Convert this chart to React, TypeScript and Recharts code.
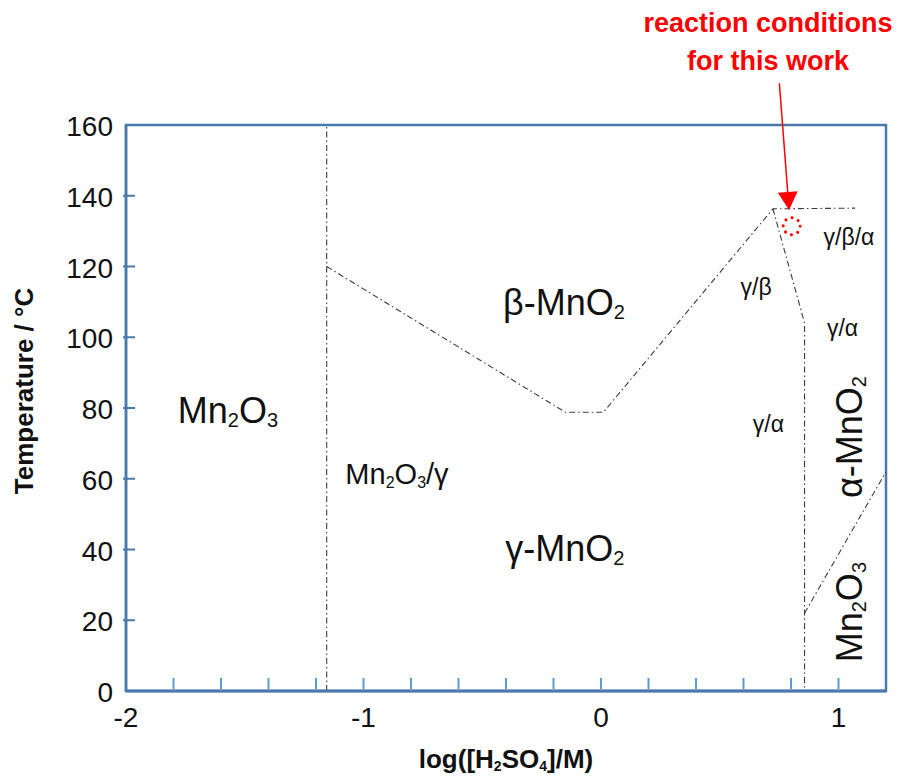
import React from "react";
import {
  ComposedChart,
  Line,
  Scatter,
  XAxis,
  YAxis,
  ReferenceArea,
  ReferenceDot,
  ReferenceLine,
} from "recharts";

const FONT = '"Liberation Sans", Arial, sans-serif';
const FRAME = "#4a78aa";
const MINOR = "#5b9bd5";
const BOUNDARY = "#3c3c3c";
const RED = "#ff0000";
const TEXT = "#111";

const xTicks = [-2, -1.8, -1.6, -1.4, -1.2, -1, -0.8, -0.6, -0.4, -0.2, 0, 0.2, 0.4, 0.6, 0.8, 1, 1.2];
const xTickLabels = [-2, -1, 0, 1];
const yTicks = [0, 20, 40, 60, 80, 100, 120, 140, 160];

// phase boundaries, log([H2SO4]/M) vs temperature
const mn2o3Boundary = [
  { x: -1.155, y: 0 },
  { x: -1.155, y: 160 },
];
const betaBoundary = [
  { x: -1.155, y: 120 },
  { x: -0.15, y: 78.8 },
  { x: 0.01, y: 78.8 },
  { x: 0.724, y: 136.3 },
  { x: 1.07, y: 136.5 },
];
const alphaBoundary = [
  { x: 0.724, y: 136.3 },
  { x: 0.857, y: 104 },
  { x: 0.857, y: 0 },
];
const alphaMn2o3Boundary = [
  { x: 0.857, y: 22 },
  { x: 1.2, y: 62 },
];
const thisWork = [{ x: 0.803, y: 131.4 }];

const arrowFrom = { x: 0.751, y: 171.8 };
const arrowTo = { x: 0.792, y: 136 };
const note = { x: 0.703, y: 186.3, lines: ["reaction conditions", "for this work"] };

const phaseLabels = [
  { text: "Mn_2O_3", x: -1.571, y: 75.8, size: 36 },
  { text: "β-MnO_2", x: -0.156, y: 106.3, size: 36 },
  { text: "Mn_2O_3/γ", x: -0.859, y: 58.4, size: 29 },
  { text: "γ-MnO_2", x: -0.152, y: 36.7, size: 36 },
  { text: "γ/β", x: 0.653, y: 111.9, size: 23 },
  { text: "γ/β/α", x: 1.044, y: 126.1, size: 23 },
  { text: "γ/α", x: 1.017, y: 100.4, size: 23 },
  { text: "γ/α", x: 0.705, y: 73.2, size: 23 },
];
const rotatedLabels = [
  { text: "α-MnO_2", x: 1.099, y: 71.8, size: 36 },
  { text: "Mn_2O_3", x: 1.099, y: 22.3, size: 36 },
];

// "_2" -> subscript 2
function chem(text: string, size: number) {
  const parts = text.split(/_(\d)/);
  const shift = size * 0.12;
  return parts.map((p, i) =>
    i % 2 === 1 ? (
      <tspan key={i} fontSize={Math.round(size * 0.55)} dy={shift}>
        {p}
      </tspan>
    ) : (
      <tspan key={i} dy={i === 0 ? 0 : -shift}>
        {p}
      </tspan>
    )
  );
}

const XTick = (props: any) => {
  const { x, y, payload } = props;
  const axisY = y - 8;
  const v = payload.value;
  return (
    <g>
      {v > -2 && v < 1.2 && (
        <line x1={x} x2={x} y1={axisY - 2} y2={axisY - 13} stroke={MINOR} strokeWidth={2} />
      )}
      {xTickLabels.includes(v) && (
        <text x={x} y={axisY + 36} textAnchor="middle" fontFamily={FONT} fontSize={28} fill={TEXT}>
          {v}
        </text>
      )}
    </g>
  );
};

const YTick = (props: any) => {
  const { x, y, payload } = props;
  const axisX = x + 13;
  const v = payload.value;
  return (
    <g>
      {v > 0 && v < 160 && (
        <line x1={axisX - 3} x2={axisX + 9} y1={y} y2={y} stroke={FRAME} strokeWidth={2} />
      )}
      <text x={x} y={y + 11} textAnchor="end" fontFamily={FONT} fontSize={28} fill={TEXT}>
        {v}
      </text>
    </g>
  );
};

const XTitle = () => (
  <text x={506} y={768} textAnchor="middle" fontFamily={FONT} fontSize={26} fontWeight="bold" fill={TEXT}>
    {chem("log([H_2SO_4]/M)", 26)}
  </text>
);

const YTitle = () => (
  <text
    x={33}
    y={391}
    transform="rotate(-90 33 391)"
    textAnchor="middle"
    fontFamily={FONT}
    fontSize={26}
    fontWeight="bold"
    fill={TEXT}
  >
    Temperature / °C
  </text>
);

const Arrow = (props: any) => {
  const { x1, y1, x2, y2 } = props;
  const len = Math.hypot(x2 - x1, y2 - y1);
  const ux = (x2 - x1) / len;
  const uy = (y2 - y1) / len;
  const head = 18;
  const half = 10;
  const bx = x2 - ux * head;
  const by = y2 - uy * head;
  return (
    <g>
      <line x1={x1} y1={y1} x2={bx} y2={by} stroke={RED} strokeWidth={1.5} />
      <polygon
        points={`${x2},${y2} ${bx - uy * half},${by + ux * half} ${bx + uy * half},${by - ux * half}`}
        fill={RED}
      />
    </g>
  );
};

export default function App() {
  return (
    <div style={{ position: "absolute", left: 0, top: 0 }}>
      <ComposedChart width={899} height={780} margin={{ top: 125, right: 13, bottom: 0, left: 0 }}>
        <XAxis
          type="number"
          dataKey="x"
          domain={[-2, 1.2]}
          ticks={xTicks}
          interval={0}
          height={89}
          tickSize={0}
          tickMargin={8}
          tickLine={false}
          axisLine={{ stroke: FRAME, strokeWidth: 3 }}
          tick={<XTick />}
          label={<XTitle />}
          allowDataOverflow
        />
        <YAxis
          type="number"
          domain={[0, 160]}
          ticks={yTicks}
          interval={0}
          width={126}
          tickSize={0}
          tickMargin={13}
          tickLine={false}
          axisLine={{ stroke: FRAME, strokeWidth: 2.5 }}
          tick={<YTick />}
          label={<YTitle />}
          allowDataOverflow
        />
        <ReferenceArea x1={-2} x2={1.2} y1={0} y2={160} fill="none" stroke={FRAME} strokeWidth={2.5} />

        {[mn2o3Boundary, betaBoundary, alphaBoundary, alphaMn2o3Boundary].map((d, i) => (
          <Line
            key={i}
            data={d}
            dataKey="y"
            type="linear"
            stroke={BOUNDARY}
            strokeWidth={1.1}
            strokeDasharray="6 3 1.5 3"
            dot={false}
            activeDot={false}
            isAnimationActive={false}
          />
        ))}

        {phaseLabels.map((l, i) => (
          <ReferenceDot
            key={"p" + i}
            x={l.x}
            y={l.y}
            r={0}
            shape={(p: any) => (
              <text x={p.cx} y={p.cy} textAnchor="middle" fontFamily={FONT} fontSize={l.size} fill={TEXT}>
                {chem(l.text, l.size)}
              </text>
            )}
          />
        ))}
        {rotatedLabels.map((l, i) => (
          <ReferenceDot
            key={"r" + i}
            x={l.x}
            y={l.y}
            r={0}
            shape={(p: any) => (
              <text
                x={p.cx}
                y={p.cy}
                transform={`rotate(-90 ${p.cx} ${p.cy})`}
                textAnchor="middle"
                fontFamily={FONT}
                fontSize={l.size}
                fill={TEXT}
              >
                {chem(l.text, l.size)}
              </text>
            )}
          />
        ))}

        <Scatter
          data={thisWork}
          dataKey="y"
          isAnimationActive={false}
          shape={(p: any) => (
            <circle
              cx={p.cx}
              cy={p.cy}
              r={8.5}
              fill="none"
              stroke={RED}
              strokeWidth={3}
              strokeDasharray="0.1 6.6"
              strokeLinecap="round"
            />
          )}
        />
        <ReferenceLine segment={[arrowFrom, arrowTo]} ifOverflow="visible" shape={<Arrow />} />
        <ReferenceDot
          x={note.x}
          y={note.y}
          r={0}
          ifOverflow="visible"
          shape={(p: any) => (
            <text textAnchor="middle" fontFamily={FONT} fontSize={27} fontWeight="bold" fill={RED}>
              {note.lines.map((t, i) => (
                <tspan key={i} x={p.cx} y={p.cy + i * 38}>
                  {t}
                </tspan>
              ))}
            </text>
          )}
        />
      </ComposedChart>
    </div>
  );
}
